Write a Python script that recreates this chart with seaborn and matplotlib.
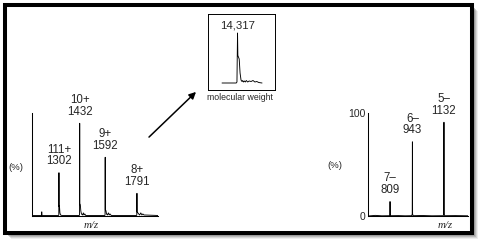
import matplotlib
matplotlib.use("Agg")
import matplotlib.pyplot as plt
from matplotlib.patches import Rectangle
import seaborn as sns
import pandas as pd

# ---- data ----
# left spectrum: positive-ion charge states, profile points (m/z, % intensity)
left_mz = [1133, 1192, 1193.5, 1194.5, 1196, 1299, 1301, 1302, 1303, 1305, 1308, 1312, 1320,
           1429, 1431, 1432, 1433, 1436, 1439, 1443, 1450, 1455, 1459, 1464, 1470,
           1589, 1591, 1592, 1593, 1597, 1600, 1606, 1612, 1617, 1622, 1630,
           1788, 1790, 1791, 1792, 1797, 1802, 1808, 1815, 1822, 1828, 1835, 1923]
left_int = [0.5, 0.5, 4, 4, 0.5, 0.5, 1, 42, 9, 10, 3, 1, 0.5,
            0.5, 1, 90, 12, 11, 5, 2, 1, 3, 1, 2, 0.5,
            0.5, 1, 57, 6, 5, 2, 1, 3, 1, 2, 0.5,
            0.5, 1, 22, 4, 3, 2, 1, 3, 1, 2, 1, 0.5]
left_peaks = [1302, 1432, 1592, 1791]
left_heights = [42, 90, 57, 22]
left_labels = ["111+\n1302", "10+\n1432", "9+\n1592", "8+\n1791"]

# right spectrum: negative-ion charge states
right_mz = [677, 720, 760, 805, 808, 809, 810, 813, 860, 900, 939, 942, 943, 944, 947,
            1000, 1060, 1128, 1131, 1132, 1133, 1136, 1200, 1276]
right_int = [0, 0.6, 0.2, 0.3, 1, 14, 1, 0.3, 0.4, 0.2, 0.3, 2, 72, 2, 0.3,
             0.5, 0.2, 0.3, 2, 91, 2, 0.3, 0.4, 0.2]
right_peaks = [809, 943, 1132]
right_heights = [14, 72, 91]
right_labels = ["7\u2013\n809", "6\u2013\n943", "5\u2013\n1132"]

# inset: deconvoluted molecular weight
mw_mass = [13993, 14290, 14305, 14317, 14324, 14352, 14370, 14390, 14410, 14425, 14440,
           14460, 14480, 14500, 14530, 14560, 14600, 14640, 14680, 14720, 14760, 14829]
mw_int = [0, 0, 2, 100, 55, 48, 20, 6, 3, 5, 2, 4, 2, 5, 2, 4, 3, 5, 2, 3, 1, 0]
mw_label = "14,317"

W, H = 484, 250
sns.set_style("white")
plt.rcParams["font.family"] = ["Liberation Sans", "DejaVu Sans"]
fig = plt.figure(figsize=(W / 100, H / 100), dpi=100)

def fx(px):
    return px / W

def fy(py):
    return 1 - py / H

# frame with shadow
for off, a in [(6, 0.12), (5, 0.2), (4, 0.3), (3, 0.4)]:
    fig.add_artist(Rectangle((fx(5 + off), fy(233 + off)), fx(467), 228 / H,
                             transform=fig.transFigure, fc="#777777", ec="none",
                             alpha=a, zorder=-3))
fig.add_artist(Rectangle((fx(5), fy(233)), fx(467), 228 / H, transform=fig.transFigure,
                         fc="white", ec="black", lw=2.9, zorder=-2))

lw = 0.75
slw = 0.65

def spec_axes(x0, x1, y0, y1):
    ax = fig.add_axes([fx(x0), fy(y1), fx(x1 - x0), (y1 - y0) / H])
    ax.set_facecolor("none")
    for s in ["top", "right"]:
        ax.spines[s].set_visible(False)
    for s in ["left", "bottom"]:
        ax.spines[s].set_linewidth(lw)
        ax.spines[s].set_color("black")
    ax.set_ylim(0, 100)
    ax.set_xticks([])
    ax.tick_params(length=0, pad=2, labelsize=7.5)
    return ax

# left spectrum
axL = spec_axes(32, 158, 113, 216)
axL.set_yticks([])
dfL = pd.DataFrame({"mz": left_mz, "i": left_int})
sns.lineplot(data=dfL, x="mz", y="i", ax=axL, color="black", lw=slw,
             estimator=None, sort=False)
axL.set_xlim(1133, 1923)
axL.set_xlabel("")
axL.set_ylabel("")
for p, h, t in zip(left_peaks, left_heights, left_labels):
    axL.annotate(t, (p, h), xytext=(0, 4), textcoords="offset points",
                 ha="center", va="bottom", fontsize=8.3, linespacing=0.95,
                 annotation_clip=False)
fig.text(fx(16), fy(167), "(%)", ha="center", va="center", fontsize=6.8)
fig.text(fx(91), fy(225), "m/z", ha="center", va="center", fontsize=7.8,
         family="Liberation Serif", style="italic")

# right spectrum
axR = spec_axes(368, 468, 113, 216)
axR.set_yticks([0, 100])
axR.set_yticklabels(["0", "100"])
dfR = pd.DataFrame({"mz": right_mz, "i": right_int})
sns.lineplot(data=dfR, x="mz", y="i", ax=axR, color="black", lw=slw,
             estimator=None, sort=False)
axR.set_xlim(677, 1276)
axR.set_xlabel("")
axR.set_ylabel("")
for p, h, t in zip(right_peaks, right_heights, right_labels):
    axR.annotate(t, (p, h), xytext=(0, 4), textcoords="offset points",
                 ha="center", va="bottom", fontsize=8.3, linespacing=0.95,
                 annotation_clip=False)
fig.text(fx(335), fy(166), "(%)", ha="center", va="center", fontsize=6.8)
fig.text(fx(445), fy(225), "m/z", ha="center", va="center", fontsize=7.8,
         family="Liberation Serif", style="italic")

# inset
axI = fig.add_axes([fx(208), fy(90), fx(67), 76 / H])
axI.set_facecolor("none")
for s in axI.spines.values():
    s.set_linewidth(0.7)
    s.set_color("black")
dfI = pd.DataFrame({"m": mw_mass, "i": mw_int})
sns.lineplot(data=dfI, x="m", y="i", ax=axI, color="black", lw=slw,
             estimator=None, sort=False)
axI.set_xlim(13700, 15100)
axI.set_ylim(-14, 138)
axI.set_xticks([])
axI.set_yticks([])
axI.set_xlabel("")
axI.set_ylabel("")
axI.text(14317, 116, mw_label, ha="center", va="center", fontsize=8.2)
fig.text(fx(240), fy(98), "molecular weight", ha="center", va="center", fontsize=6.3)

# arrow
fig.add_artist(matplotlib.patches.FancyArrowPatch(
    (147, H - 139), (198, H - 90), transform=None,
    arrowstyle="-|>,head_length=4,head_width=2", lw=1.1, color="black",
    mutation_scale=1))

fig.savefig("out.png", dpi=100)
